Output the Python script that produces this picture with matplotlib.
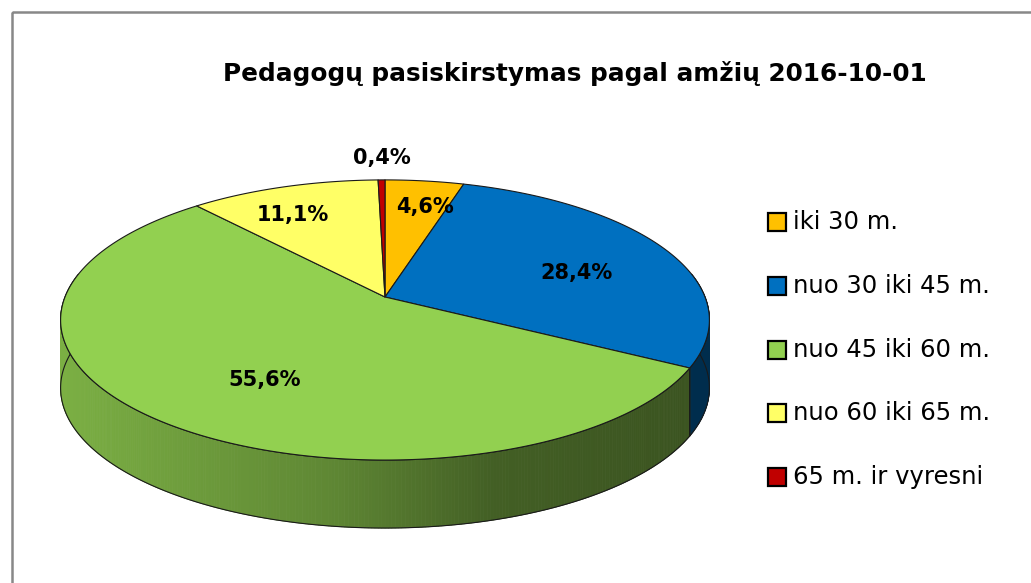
import numpy as np
import matplotlib
matplotlib.use('Agg')
import matplotlib.pyplot as plt
from matplotlib.patches import Polygon, Rectangle
from matplotlib.colors import to_rgb

# ---- data ----
title = 'Pedagogų pasiskirstymas pagal amžių 2016-10-01'
categories = ['iki 30 m.', 'nuo 30 iki 45 m.', 'nuo 45 iki 60 m.',
              'nuo 60 iki 65 m.', '65 m. ir vyresni']
values = [4.6, 28.4, 55.6, 11.1, 0.4]
value_labels = ['4,6%', '28,4%', '55,6%', '11,1%', '0,4%']
colors = ['#FFC000', '#0070C0', '#92D050', '#FFFF66', '#C00000']

# ---- layout ----
W, H = 1031, 583
CX, CY = 385.0, 297.0      # projected centre
RX, RY = 320.0, 136.3      # radii
K = 0.164                  # perspective
DEPTH = 68.0
label_r = [0.753, 0.641, 0.65, 0.74, 1.2245]
label_dth = [2.4, 6.0, -7.0, -4.2, 0.2]
FONT = 'DejaVu Sans'

fig = plt.figure(figsize=(W / 100, H / 100), dpi=100)
ax = fig.add_axes([0, 0, 1, 1])
ax.set_xlim(0, W)
ax.set_ylim(H, 0)
ax.axis('off')


def proj(r, th_deg):
    t = np.radians(th_deg)
    u = r * np.sin(t)
    v = r * np.cos(t)
    w = 1 + K * v
    return CX + RX * u / w, CY - RY * v / w


def shade(x):
    return np.interp(x, [65, 330, 490, 700], [0.84, 0.65, 0.46, 0.40])


total = float(sum(values))
bounds = np.concatenate([[0], np.cumsum(values)]) / total * 360.0

# ---- side walls (front half) ----
for i in range(len(values)):
    a0, a1 = max(bounds[i], 80), min(bounds[i + 1], 280)
    if a1 <= a0:
        continue
    th = np.linspace(a0, a1, max(3, int((a1 - a0) * 2)))
    xs, ys = proj(1.0, th)
    base = np.array(to_rgb(colors[i]))
    for j in range(len(th) - 1):
        xm = 0.5 * (xs[j] + xs[j + 1])
        c = np.clip(base * shade(xm), 0, 1)
        quad = [(xs[j], ys[j]), (xs[j + 1], ys[j + 1]),
                (xs[j + 1], ys[j + 1] + DEPTH), (xs[j], ys[j] + DEPTH)]
        ax.add_patch(Polygon(quad, closed=True, facecolor=c, edgecolor=c,
                             lw=0.6, zorder=2))
    outline = list(zip(xs, ys)) + list(zip(xs[::-1], ys[::-1] + DEPTH))
    ax.add_patch(Polygon(outline, closed=True, facecolor='none',
                         edgecolor='#1a1a1a', lw=0.8, zorder=3))

# ---- top faces ----
for i in range(len(values)):
    th = np.linspace(bounds[i], bounds[i + 1],
                     max(3, int((bounds[i + 1] - bounds[i]) * 2)))
    xs, ys = proj(1.0, th)
    pts = [(CX, CY)] + list(zip(xs, ys))
    ax.add_patch(Polygon(pts, closed=True, facecolor=colors[i],
                         edgecolor='#1a1a1a', lw=0.8, zorder=4,
                         joinstyle='round'))

# ---- value labels ----
for i in range(len(values)):
    mid = 0.5 * (bounds[i] + bounds[i + 1]) + label_dth[i]
    x, y = proj(label_r[i], mid)
    ax.text(x, y, value_labels[i], ha='center', va='center', fontsize=15,
            fontweight='bold', family=FONT, color='black', zorder=6)

# ---- title ----
ax.text(575, 73, title, ha='center', va='center', fontsize=17.8,
        fontweight='bold', family=FONT, color='black')

# ---- frame ----
ax.add_patch(Rectangle((12, 12), W + 50, H + 50, facecolor='none',
                       edgecolor='#888888', lw=1.8, zorder=1))

# ---- legend (drawn manually) ----
LEG_X, LEG_Y0, LEG_DY, SQ = 768, 222, 63.8, 18
for i, (cat, col) in enumerate(zip(categories, colors)):
    yc = LEG_Y0 + i * LEG_DY
    ax.add_patch(Rectangle((LEG_X, yc - SQ / 2), SQ, SQ, facecolor=col,
                           edgecolor='black', lw=1.6, zorder=5))
    ax.text(LEG_X + SQ + 7, yc, cat, ha='left', va='center', fontsize=17.5,
            family=FONT, color='black')

fig.savefig('out.png', dpi=100)
